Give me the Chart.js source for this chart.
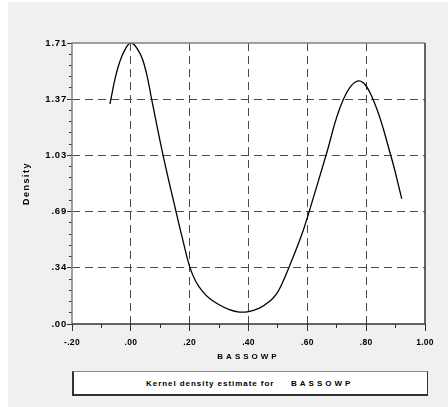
<!DOCTYPE html>
<html>
<head>
<meta charset="utf-8">
<script src="https://cdn.jsdelivr.net/npm/chart.js@4.4.1/dist/chart.umd.min.js"></script>
<style>
  html, body { margin: 0; padding: 0; background: #fff; }
  #wrap { position: relative; width: 448px; height: 407px; overflow: hidden; }
  #panel { position: absolute; left: 8px; top: 2px; width: 440px; height: 405px; background: #f0f0f0; }
  #chart { position: absolute; left: 0; top: 0; }
  #legend {
    position: absolute; left: 72px; top: 371px; width: 356px; height: 25px; box-sizing: border-box;
    background: #fff; border-top: 1px solid #888; border-right: 1px solid #333;
    border-bottom: 2px solid #333; border-left: 2px solid #333;
  }
  #legend span {
    position: absolute; top: 7px; font: bold 8px "Liberation Sans", Arial, sans-serif; color: #000; white-space: nowrap;
  }
</style>
</head>
<body>
<div id="wrap">
  <div id="panel"></div>
  <canvas id="chart" width="448" height="407"></canvas>
  <div id="legend">
    <span style="left:72px;letter-spacing:0.95px">Kernel density estimate for</span>
    <span style="left:217px;letter-spacing:3px">BASSOWP</span>
  </div>
</div>
<script>
// values
const densityX = [-0.071, -0.049, -0.026, 0.000, 0.031, 0.053, 0.071, 0.110, 0.153, 0.177, 0.200, 0.220,
  0.245, 0.270, 0.302, 0.335, 0.369, 0.400, 0.437, 0.470, 0.494, 0.515, 0.537, 0.579, 0.607, 0.663,
  0.722, 0.776, 0.824, 0.884, 0.921]
const densityY = [1.343, 1.530, 1.651, 1.714, 1.651, 1.530, 1.368, 1.026, 0.690, 0.510, 0.350, 0.262,
  0.196, 0.152, 0.116, 0.088, 0.073, 0.076, 0.097, 0.135, 0.180, 0.250, 0.343, 0.535, 0.690, 1.026,
  1.368, 1.483, 1.368, 1.026, 0.764]

const xTickValues = [-0.2, 0.0, 0.2, 0.4, 0.6, 0.8, 1.0]
const xTickLabels = ['-.20', '.00', '.20', '.40', '.60', '.80', '1.00']
const xMinorTicks = [-0.1, 0.1, 0.3, 0.5, 0.7, 0.9]

const yMax = 1.714
const yTickValues = [0, 0.343, 0.686, 1.028, 1.371, 1.714]
const yTickLabels = ['.00', '.34', '.69', '1.03', '1.37', '1.71']
const yMinorTicks = []
for (let k = 1; k < 25; k++) {
  if (k % 5 !== 0) yMinorTicks.push(k * yMax / 25)
}

const FONT = '"Liberation Sans", Arial, sans-serif'

// letter spacing for scale labels / titles (SPSS style)
function spaced(scale, labelGap, titleGap) {
  if (scale._spaced) return
  scale._spaced = true
  const drawLabels = scale.drawLabels
  const drawTitle = scale.drawTitle
  scale.drawLabels = function(area) {
    this.ctx.save()
    this.ctx.letterSpacing = labelGap
    drawLabels.call(this, area)
    this.ctx.restore()
  }
  scale.drawTitle = function(area) {
    this.ctx.save()
    this.ctx.letterSpacing = titleGap
    drawTitle.call(this, area)
    this.ctx.restore()
  }
}

const gridColor = (edges) => (ctx) => {
  const v = ctx.tick ? ctx.tick.value : null
  return edges.some(e => Math.abs(e - v) < 1e-6) ? 'rgba(0,0,0,0)' : '#4a4a4a'
}

const plotFrame = {
  id: 'plotFrame',
  beforeDraw(chart) {
    const { ctx, chartArea: a } = chart
    ctx.save()
    ctx.fillStyle = '#fff'
    ctx.fillRect(a.left, a.top, a.right - a.left, a.bottom - a.top)
    ctx.restore()
  },
  afterDraw(chart) {
    const { ctx, chartArea: a } = chart
    ctx.save()
    ctx.lineWidth = 1.5
    ctx.strokeStyle = '#808080'
    ctx.beginPath()
    ctx.moveTo(a.left, a.bottom)
    ctx.lineTo(a.left, a.top)
    ctx.lineTo(a.right, a.top)
    ctx.stroke()
    ctx.strokeStyle = '#333'
    ctx.beginPath()
    ctx.moveTo(a.right, a.top)
    ctx.lineTo(a.right, a.bottom)
    ctx.lineTo(a.left, a.bottom)
    ctx.stroke()
    ctx.restore()
  }
}

new Chart(document.getElementById('chart'), {
  type: 'line',
  data: {
    datasets: [{
      label: 'Density',
      data: densityX.map((x, i) => ({ x: x, y: densityY[i] })),
      borderColor: '#000',
      borderWidth: 1.3,
      pointRadius: 0,
      fill: false,
      tension: 0.4
    }]
  },
  options: {
    responsive: false,
    devicePixelRatio: 1,
    animation: false,
    layout: { padding: { left: 0, top: 43, right: 23, bottom: 0 } },
    scales: {
      x: {
        type: 'linear',
        position: 'bottom',
        weight: 1,
        min: -0.2,
        max: 1.0,
        afterBuildTicks: s => { s.ticks = xTickValues.map(v => ({ value: v })) },
        afterFit: s => { s.height = 83; spaced(s, '0.3px', '3px') },
        ticks: {
          callback: (v, i) => xTickLabels[i],
          font: { family: FONT, size: 8.5, weight: 'bold' },
          color: '#000',
          padding: 7,
          maxRotation: 0,
          autoSkip: false
        },
        grid: { color: gridColor([-0.2, 1.0]), lineWidth: 1, tickColor: '#333', tickLength: 7, tickWidth: 1 },
        border: { display: false, dash: [8, 5] },
        title: {
          display: true, text: 'BASSOWP', color: '#000',
          font: { family: FONT, size: 8, weight: 'bold' },
          padding: { top: 0, bottom: 45 }
        }
      },
      xMinor: {
        type: 'linear',
        position: 'bottom',
        weight: 0,
        min: -0.2,
        max: 1.0,
        afterBuildTicks: s => { s.ticks = xMinorTicks.map(v => ({ value: v })) },
        afterFit: s => { s.height = 0 },
        ticks: { display: false },
        grid: { drawOnChartArea: false, tickColor: '#333', tickLength: 4, tickWidth: 1 },
        border: { display: false }
      },
      y: {
        type: 'linear',
        position: 'left',
        weight: 1,
        min: 0,
        max: yMax,
        afterBuildTicks: s => { s.ticks = yTickValues.map(v => ({ value: v })) },
        afterFit: s => { s.width = 72; spaced(s, '0.8px', '1.5px') },
        ticks: {
          callback: (v, i) => yTickLabels[i],
          font: { family: FONT, size: 9.5, weight: 'bold' },
          color: '#000',
          padding: 0,
          autoSkip: false
        },
        grid: { color: gridColor([0, yMax]), lineWidth: 1, tickColor: '#333', tickLength: 5, tickWidth: 1 },
        border: { display: false, dash: [8, 5] },
        title: {
          display: true, text: 'Density', color: '#000',
          font: { family: FONT, size: 9, weight: 'bold' },
          padding: { top: 21, bottom: 0 }
        }
      },
      yMinor: {
        type: 'linear',
        position: 'left',
        weight: 0,
        min: 0,
        max: yMax,
        afterBuildTicks: s => { s.ticks = yMinorTicks.map(v => ({ value: v })) },
        afterFit: s => { s.width = 0 },
        ticks: { display: false },
        grid: { drawOnChartArea: false, tickColor: '#333', tickLength: 3, tickWidth: 1 },
        border: { display: false }
      }
    },
    plugins: {
      legend: { display: false },
      tooltip: { enabled: false }
    }
  },
  plugins: [plotFrame]
})
</script>
</body>
</html>
